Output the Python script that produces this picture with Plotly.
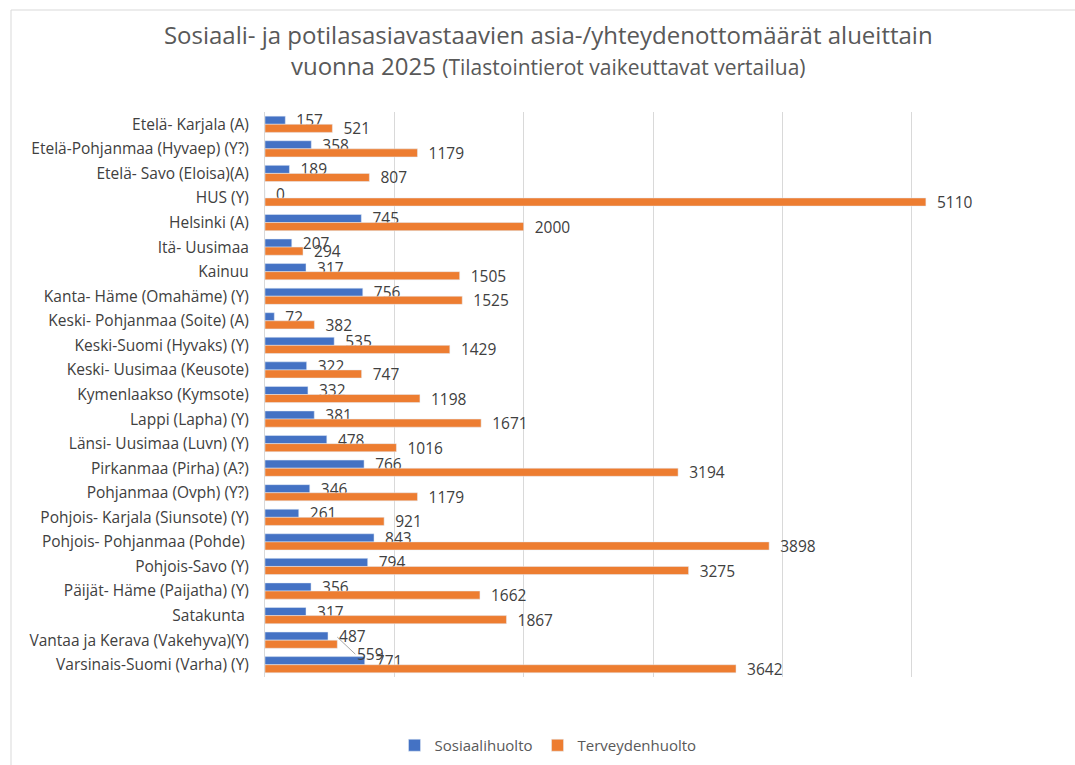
import plotly.graph_objects as go

categories = [
    "Etelä- Karjala (A)",
    "Etelä-Pohjanmaa (Hyvaep) (Y?)",
    "Etelä- Savo (Eloisa)(A)",
    "HUS (Y)",
    "Helsinki (A)",
    "Itä- Uusimaa",
    "Kainuu",
    "Kanta- Häme (Omahäme) (Y)",
    "Keski- Pohjanmaa (Soite) (A)",
    "Keski-Suomi (Hyvaks) (Y)",
    "Keski- Uusimaa (Keusote)",
    "Kymenlaakso (Kymsote)",
    "Lappi (Lapha) (Y)",
    "Länsi- Uusimaa (Luvn) (Y)",
    "Pirkanmaa (Pirha) (A?)",
    "Pohjanmaa (Ovph) (Y?)",
    "Pohjois- Karjala (Siunsote) (Y)",
    "Pohjois- Pohjanmaa (Pohde)\u00a0",
    "Pohjois-Savo (Y)",
    "Päijät- Häme (Paijatha) (Y)",
    "Satakunta\u00a0",
    "Vantaa ja Kerava (Vakehyva)(Y)",
    "Varsinais-Suomi (Varha) (Y)",
]
sosiaalihuolto = [157, 358, 189, 0, 745, 207, 317, 756, 72, 535, 322, 332, 381,
                  478, 766, 346, 261, 843, 794, 356, 317, 487, 771]
terveydenhuolto = [521, 1179, 807, 5110, 2000, 294, 1505, 1525, 382, 1429, 747,
                   1198, 1671, 1016, 3194, 1179, 921, 3898, 3275, 1662, 1867, 559, 3642]

BLUE = "#4472C4"
ORANGE = "#ED7D31"
TXT = "#404040"
FONT = "Open Sans"
PAD = "\u00a0\u00a0"

# the label of one point is moved off with a leader line (as in the original)
moved_idx = categories.index("Vantaa ja Kerava (Vakehyva)(Y)")
ter_text = [PAD + str(v) if i != moved_idx else "" for i, v in enumerate(terveydenhuolto)]

fig = go.Figure()
fig.add_trace(go.Bar(
    y=categories, x=sosiaalihuolto, orientation="h", name="Sosiaalihuolto",
    marker_color=BLUE, text=[PAD + str(v) for v in sosiaalihuolto],
    textposition="outside", textfont=dict(color=TXT, size=15.5, family=FONT),
    cliponaxis=False, constraintext="none",
))
fig.add_trace(go.Bar(
    y=categories, x=terveydenhuolto, orientation="h", name="Terveydenhuolto",
    marker_color=ORANGE, text=ter_text,
    textposition="outside", textfont=dict(color=TXT, size=15.5, family=FONT),
    cliponaxis=False, constraintext="none",
))

fig.add_annotation(
    x=terveydenhuolto[moved_idx], y=categories[moved_idx], xref="x", yref="y",
    text=str(terveydenhuolto[moved_idx]), showarrow=True, arrowhead=0,
    arrowcolor="#A6A6A6", arrowwidth=1, ax=18, ay=17, yshift=3,
    xanchor="left", font=dict(color=TXT, size=15.5, family=FONT),
)

fig.update_layout(
    width=1075, height=765,
    paper_bgcolor="white", plot_bgcolor="white",
    margin=dict(l=265, r=34, t=112, b=88, autoexpand=False),
    barmode="group", bargap=0.34, bargroupgap=0,
    font=dict(family=FONT, color="#595959"),
    title=dict(
        text="Sosiaali- ja potilasasiavastaavien asia-/yhteydenottomäärät alueittain<br>"
             "vuonna 2025 <span style='font-size:21px'>(Tilastointierot vaikeuttavat vertailua)</span>",
        x=0.51, xanchor="center", y=0.943, yanchor="top",
        font=dict(size=24, color="#595959", family=FONT),
    ),
    legend=dict(
        orientation="h", x=(548 - 265) / 776, xanchor="center",
        y=-0.092, yanchor="top",
        font=dict(size=15, color="#595959", family=FONT), traceorder="normal",
        itemwidth=30,
    ),
    showlegend=True,
)
fig.update_xaxes(range=[0, 6000], dtick=1000, showticklabels=False,
                 showgrid=True, gridcolor="#D9D9D9", gridwidth=1,
                 zeroline=False, showline=False)
fig.update_yaxes(autorange="reversed", showgrid=False, showline=True,
                 linecolor="#D9D9D9", linewidth=1, ticks="",
                 ticklabelstandoff=12, automargin=False,
                 tickfont=dict(size=15.5, color=TXT, family=FONT))

# chart frame
fig.add_shape(type="rect", xref="paper", yref="paper",
              x0=(11 - 265) / 776, x1=(1085 - 265) / 776,
              y0=(677 - 775) / 565, y1=(677 - 10) / 565,
              line=dict(color="#D9D9D9", width=1), layer="below")

fig.write_html("out.html", config={"displayModeBar": False},
               post_script="document.body.style.margin='0';")
